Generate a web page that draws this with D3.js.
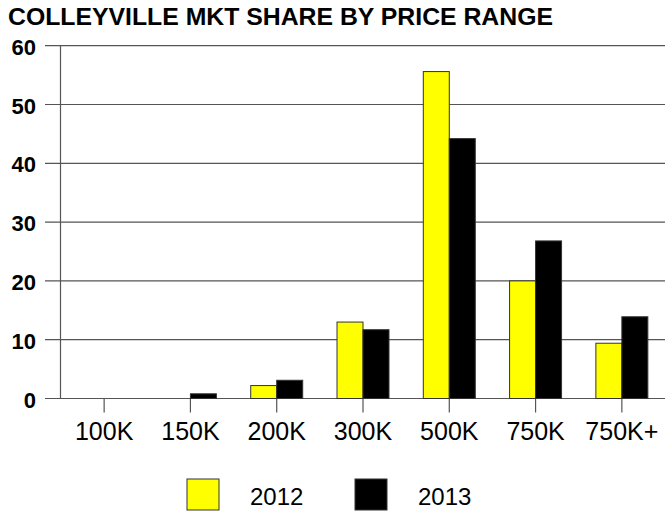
<!DOCTYPE html>
<html>
<head>
<meta charset="utf-8">
<script src="https://cdn.jsdelivr.net/npm/d3@7"></script>
<style>
  body { margin: 0; background: #fff; }
  svg { display: block; font-family: "Liberation Sans", Arial, sans-serif; }
</style>
</head>
<body>
<div id="chart"></div>
<script>
// data
let categories = ["100K", "150K", "200K", "300K", "500K", "750K", "750K+"];
let seriesNames = ["2012", "2013"];
let values2012 = [0, 0, 2.2, 13.0, 55.6, 20.0, 9.4];
let values2013 = [0, 0.8, 3.1, 11.7, 44.2, 26.8, 13.9];
let yTicks = [0, 10, 20, 30, 40, 50, 60];

let colors = { "2012": "#ffff00", "2013": "#000000" };

let W = 671, H = 512;
let plot = { left: 61, right: 665, top: 45.7, bottom: 398.5 };

let svg = d3.select("#chart").append("svg")
  .attr("width", W)
  .attr("height", H);

let rows = categories.map((c, i) => ({
  cat: c,
  vals: [
    { key: "2012", v: values2012[i] },
    { key: "2013", v: values2013[i] }
  ]
}));

// scales
let x = d3.scaleBand().domain(categories).range([plot.left, plot.right]).padding(0);
let x1 = d3.scaleBand().domain(seriesNames).range([0, x.bandwidth()])
  .paddingInner(0).paddingOuter(0.66);
let y = d3.scaleLinear().domain([0, 60]).range([plot.bottom, plot.top]);

// gridlines
svg.append("g")
  .selectAll("line")
  .data(yTicks)
  .join("line")
  .attr("x1", 45)
  .attr("x2", plot.right)
  .attr("y1", d => y(d))
  .attr("y2", d => y(d))
  .attr("stroke", "#555")
  .attr("stroke-width", 1.2);

// y axis line
svg.append("line")
  .attr("x1", 60.5).attr("x2", 60.5)
  .attr("y1", y(60)).attr("y2", y(0))
  .attr("stroke", "#555")
  .attr("stroke-width", 1.2);

// y labels
svg.append("g")
  .selectAll("text")
  .data(yTicks)
  .join("text")
  .attr("x", 36)
  .attr("y", d => y(d) + 9)
  .attr("text-anchor", "end")
  .style("font-size", "22px")
  .style("font-weight", "bold")
  .text(d => d);

// x axis ticks + labels
let xAxis = svg.append("g")
  .attr("transform", `translate(0,${plot.bottom})`)
  .call(d3.axisBottom(x).tickSize(14).tickPadding(10));
xAxis.select(".domain").remove();
xAxis.selectAll(".tick line").attr("stroke", "#555").attr("stroke-width", 1.2);
xAxis.selectAll(".tick text")
  .style("font-family", "\"Liberation Sans\", Arial, sans-serif")
  .style("font-size", "25px")
  .attr("fill", "#000");

// bars
svg.append("g")
  .selectAll("g")
  .data(rows)
  .join("g")
  .attr("transform", d => `translate(${x(d.cat)},0)`)
  .selectAll("rect")
  .data(d => d.vals.filter(v => v.v > 0))
  .join("rect")
  .attr("x", d => x1(d.key))
  .attr("width", x1.bandwidth())
  .attr("y", d => y(d.v))
  .attr("height", d => y(0) - y(d.v))
  .attr("fill", d => colors[d.key])
  .attr("stroke", "#333")
  .attr("stroke-width", 1);

// title
svg.append("text")
  .attr("x", 8)
  .attr("y", 24.5)
  .attr("textLength", 545)
  .attr("lengthAdjust", "spacingAndGlyphs")
  .style("font-size", "23px")
  .style("font-weight", "bold")
  .text("COLLEYVILLE MKT SHARE BY PRICE RANGE");

// legend
let legend = svg.append("g")
  .selectAll("g")
  .data(seriesNames)
  .join("g")
  .attr("transform", (d, i) => `translate(${187 + i * 168},479)`);

legend.append("rect")
  .attr("width", 32)
  .attr("height", 31)
  .attr("fill", d => colors[d])
  .attr("stroke", "#333")
  .attr("stroke-width", 1);

legend.append("text")
  .attr("x", 63)
  .attr("y", 26)
  .style("font-size", "24px")
  .text(d => d);
</script>
</body>
</html>
